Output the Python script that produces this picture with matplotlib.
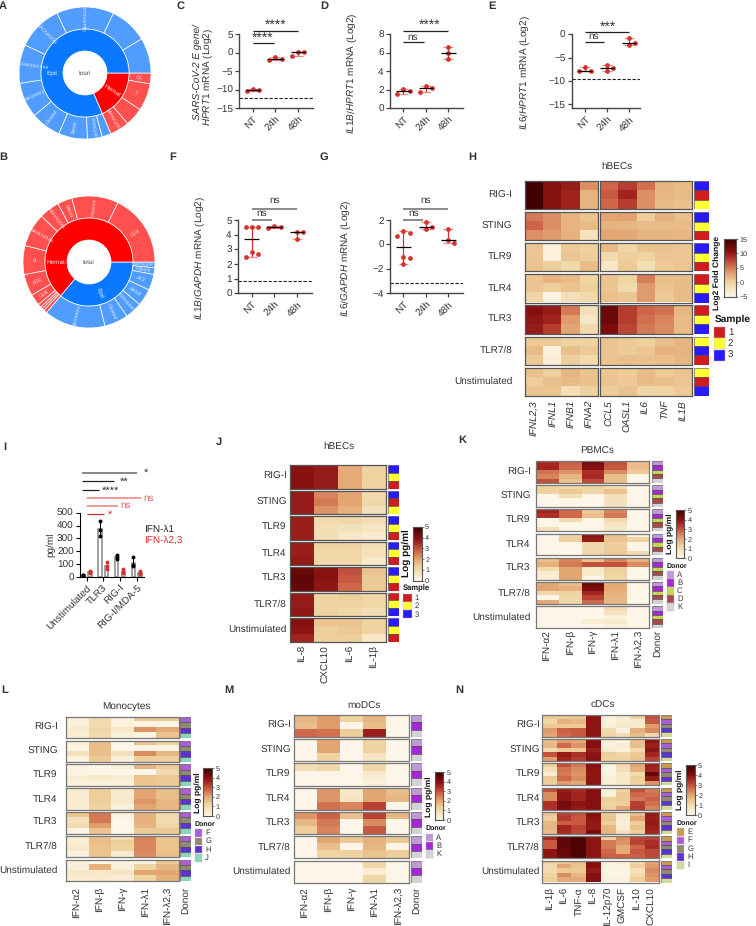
import numpy as np
import matplotlib
matplotlib.use("Agg")
import matplotlib.pyplot as plt
from matplotlib.colors import LinearSegmentedColormap

plt.rcParams['font.family'] = ['Liberation Sans', 'DejaVu Sans']
plt.rcParams['mathtext.fontset'] = 'custom'
plt.rcParams['mathtext.rm'] = 'Liberation Sans'
plt.rcParams['mathtext.it'] = 'Liberation Sans:italic'
plt.rcParams['mathtext.bf'] = 'Liberation Sans:bold'
plt.rcParams['text.hinting'] = 'no_hinting'

W, H = 756, 926
TXT = '#333333'
RED = '#d8302a'
FS = 7.2
fig = plt.figure(figsize=(W / 100, H / 100), dpi=100)

# sunburst values, degrees of the circle, clockwise from east
a_inner_labels = ['Hemat', 'Epit']
a_inner = [67, 293]
a_outer_labels = ['DC', 'T', '', 'Monocytes', '', 'Ionocyte', 'Basal', 'Ciliated', 'Secretory',
                  'Neuroendocrine', 'CACNA2D1', 'Squamous', '', '']
a_outer = [9.5, 24.2, 16.3, 17, 8, 13, 25.4, 26.6, 31, 34, 40, 50.5, 33.5, 31]
b_inner_labels = ['Epit', 'Hemat']
b_inner = [130, 230]
b_outer_labels = ['Ionocyte', 'Hillock', 'AT2', 'Basal', 'Fibroblast', 'Ciliated', 'Secretory',
                  '', '', '', '', 'CD8', 'pDC', 'B', 'Neutrophils', 'Monocytes', 'Macro', 'Plasma', 'CD4']
b_outer = [5, 6, 14, 15, 15, 21, 54, 3, 2, 2, 3, 10, 19, 25.5, 29.5, 18, 13, 41, 64]

# qPCR panels
time_labels = ['NT', '24h', '48h']
c_vals = [[-10.4, -9.8, -10.2], [-1.9, -1.2, -1.8], [0.2, -0.9, 0.1]]
d_vals = [[2.1, 1.5, 1.8], [2.35, 1.75, 2.2], [6.55, 5.9, 5.25]]
e_vals = [[-7.9, -7.0, -7.9], [-6.5, -7.9, -7.3], [-2.3, -0.8, -1.8]]
f_vals = [[4.5, 4.5, 4.5, 2.85, 2.65, 2.45], [4.45, 4.6, 4.5], [4.15, 4.15, 3.7]]
g_vals = [[0.95, 1.1, 0.65, -1.05, -1.1, -1.6], [1.3, 1.85, 1.45], [0.15, 1.25, 0.35]]

# panel I
i_labels = ['Unstimulated', 'TLR3', 'RIG-I', 'RIG-I/MDA-5']
i_l1 = [[15, 10, 18], [435, 365, 320], [170, 155, 140], [155, 90, 85]]
i_l23 = [[50, 30, 40], [115, 85, 65], [60, 35, 30], [45, 30, 25]]

# heatmaps: one matrix per stimulus, rows are samples or donors
stim = ['RIG-I', 'STING', 'TLR9', 'TLR4', 'TLR3', 'TLR7/8', 'Unstimulated']
h_genes = ['IFNL2,3', 'IFNL1', 'IFNB1', 'IFNA2', 'CCL5', 'OASL1', 'IL6', 'TNF', 'IL1B']
h_rig = [[15, 11, 10, 4, 6, 8, 5.5, 2, 1.5], [15, 11, 9.5, 2, 6.5, 9.5, 4, 1.8, 1.5], [15, 11, 9.5, 2, 5.8, 8, 4, 1.5, 1.2]]
h_sting = [[5, 4, 2, 1, 3, 3.2, 0.3, 2.2, 1.2], [6, 4, 2, 1.5, 2, 1.8, 1.5, 1.5, 1.5], [4, 3.5, 2.2, -2, 3, 2.8, 2, 2, 1.8]]
h_tlr9 = [[0.8, -4, 0.5, 0, 1.5, -0.5, 1, 1, 0.8], [0.8, -4, 0.8, 0.2, -1, 0.2, -0.2, 0.8, 0.8], [1, 0.3, -0.8, 1.5, -2.5, 0.5, -1.5, 0.6, 0.8]]
h_tlr4 = [[1, 2, 1.5, -0.5, 1, -0.3, 4.8, 1.3, 1.5], [0.8, 0.3, 1, 0, 0.8, -1, 3.5, 1, 1.5], [-0.5, -4.5, -1.5, -0.8, 1.2, 0.8, 3.5, 0.6, 1.5]]
h_tlr3 = [[11, 10, 5, -1.5, 12.5, 8, 6, 5.5, 1.8], [10.5, 9.5, 3.5, -2.5, 12.5, 8, 5.5, 4.5, 1.5], [10, 8, 3, -1, 11.5, 7.5, 5, 4.2, 1.5]]
h_tlr78 = [[0.5, 0.5, -0.3, -0.2, 1, 0.5, 0, 1.3, 2], [1.5, -4, 1.3, 0.6, 1, 0.4, 0.8, 2.2, 2], [0.6, -3.5, 0.2, -1, 1, 1.3, 1.2, 1.3, 1.8]]
h_un = [[1.2, 0, 2, 1, 0.8, 0.5, 1.5, 0.5, 1], [0.2, 1.3, 1.5, 1.2, 1, 0.5, 1.5, 1.2, 0.8], [1, 1, -1.5, 0, 0.3, 1, -0.5, -0.2, 0.5]]
h_order = ['312', '321', '321', '123', '123', '231', '213']

j_cyt = ['IL-8', 'CXCL10', 'IL-6', 'IL-1β']
j_rig = [[3.95, 3.8, 1.9, 1.2], [3.95, 3.75, 1.9, 1.25], [3.95, 3.75, 1.9, 1.2]]
j_sting = [[3.75, 2.4, 2, 1.0], [3.75, 2.5, 2, 1.1], [3.75, 2.2, 1.8, 0.8]]
j_tlr9 = [[3.7, 1, 1.1, 0.9], [3.7, 0.9, 0.8, 0.7], [3.7, 0.9, 0.6, 0.45]]
j_tlr4 = [[3.7, 1.2, 1.2, 0.9], [3.7, 1.1, 1.1, 0.8], [3.8, 1.1, 1.1, 0.55]]
j_tlr3 = [[4.4, 3.95, 3, 1.5], [4.5, 3.95, 2.9, 1.4], [4.4, 3.85, 2.7, 1.4]]
j_tlr78 = [[3.75, 1.2, 1.3, 1.1], [3.75, 1.2, 1.2, 1.1], [3.85, 1.2, 1.1, 0.9]]
j_un = [[4, 1.5, 1.5, 1.2], [3.9, 1.3, 1.4, 1.2], [3.6, 1.3, 1.3, 0.6]]
j_order = ['321', '312', '321', '321', '321', '123', '321']

ifn = ['IFN-α2', 'IFN-β', 'IFN-γ', 'IFN-λ1', 'IFN-λ2,3']
k_rig = [[3.5, 2.8, 4.2, 3, 1.6], [3.6, 2.7, 4, 2.9, 1.6], [2.6, 2.2, 3.4, 2.3, 1.4], [2.4, 1.7, 3.5, 1.6, 0], [3, 1.5, 3.1, 1.6, 0]]
k_sting = [[1.2, 1.1, 1.2, 0.9, 0], [1.2, 1.4, 1.1, 1.5, 0], [0, 0.9, 0, 0.8, 0], [0, 0, 0, 0.8, 0], [0, 0, 0, 0.8, 0]]
k_tlr9 = [[3.6, 2.7, 1.4, 2.4, 0], [3.4, 2.7, 1.6, 2.5, 0], [0, 1, 0, 1, 0], [0, 0, 0, 0.7, 0], [0.8, 0, 0, 0.6, 0]]
k_tlr4 = [[0, 1.1, 3.9, 1.6, 0], [0, 1.3, 3.8, 1.5, 1.2], [0, 0, 1.1, 1.3, 0], [0, 0, 1.0, 1.3, 0], [0, 0, 1.1, 1.4, 1.0]]
k_tlr3 = [[1.6, 2.4, 1.6, 2.4, 1.8], [1.8, 2.5, 3.0, 3.0, 2.3], [1, 2.0, 0.6, 1.3, 0], [0.4, 2, 0.5, 1.2, 0], [0.4, 2, 0, 1.1, 0]]
k_tlr78 = [[2, 1.6, 4.4, 1.9, 0], [2, 1.8, 4.1, 1.9, 0], [1.1, 1.2, 3.6, 1.8, 0], [0, 1.1, 3.2, 1.7, 0], [1.9, 1.1, 2.7, 1.7, 0]]
k_un = [[0, 0, 0, 1, 0], [0, 0, 0, 0.8, 0], [0, 0, 0, 0.2, 0], [0, 0, 0.4, 0.5, 0], [0, 0, 0, 0.2, 0]]

l_rig = [[0.3, 1, 0.2, 1.4, 1.4], [0.3, 1, 0.2, 0.1, 0.1], [0.5, 1.1, 0.6, 2.2, 1.9], [0.4, 1, 0.3, 0.1, 1.5]]
l_sting = [[0.3, 1.6, 0, 1.5, 1.2], [0.1, 1.6, 0, 0.1, 0.1], [0.8, 1.6, 0.8, 2.3, 1.7], [0.1, 1.4, 0.3, 1.3, 1.3]]
l_tlr9 = [[0.1, 0, 0.3, 1.7, 1.3], [0.1, 0, 0, 0, 1], [0.4, 0.6, 0.4, 1.5, 1.4], [0.3, 0.3, 0.3, 1.5, 1.4]]
l_tlr4 = [[0.4, 1.3, 0.5, 2, 1.6], [0.4, 1.3, 0.5, 2, 1.6], [0.4, 1.3, 0.6, 2.2, 1.7], [0.4, 1.2, 0.3, 2, 1.7]]
l_tlr3 = [[1.5, 2.5, 0.3, 1.8, 1], [0.8, 2.5, 0, 1.8, 1], [1, 2.1, 0, 1.7, 1.1], [0.1, 1.5, 0, 1.4, 1.4]]
l_tlr78 = [[0.4, 1.6, 0.9, 2.4, 1.5], [0.4, 1.6, 1.3, 2.4, 1.5], [0.6, 1.5, 1.2, 2.4, 1.5], [0.2, 1.5, 0.5, 2.3, 1.6]]
l_un = [[0.3, 0, 0.2, 0.1, 1.4], [0.3, 1.8, 0.3, 1.2, 1.7], [0.6, 0.6, 0.7, 2, 2], [0.4, 0.5, 0.4, 1.2, 1.8]]

m_rig = [[1.7, 2.1, 1.2, 1.7, 0], [1.6, 2.1, 0, 1.6, 0], [2.7, 2.6, 1.3, 3.7, 0]]
m_sting = [[0, 2, 0, 1.2, 0], [0, 2, 0, 1.2, 0], [0, 1.2, 0, 0.7, 0]]
m_tlr9 = [[0.9, 1.1, 0, 1.1, 0], [0, 0, 0, 0.5, 0], [0, 0, 0, 0.3, 0]]
m_tlr4 = [[0, 2.2, 0.6, 2, 1.6], [0, 2.2, 0.7, 2, 1.7], [0, 2.6, 2.4, 3.2, 0]]
m_tlr3 = [[2.2, 2.8, 1.6, 3.2, 1.7], [1.7, 2.5, 0, 2.3, 0], [1.3, 2.4, 0, 2.9, 0]]
m_tlr78 = [[0, 2, 1.4, 1.8, 1.4], [0, 1.6, 0, 1.7, 0], [0, 1.2, 1.2, 1.5, 1.3]]
m_un = [[0, 0, 0, 1.1, 0], [0, 0, 0, 0.4, 0], [0, 0, 0, 1.1, 0]]

n_cyt = ['IL-1β', 'IL-6', 'TNF-α', 'IL-8', 'IL-12p70', 'GMCSF', 'IL-10', 'CXCL10']
n_rig = [[1.4, 1.4, 1.5, 3.9, 0.3, 0.5, 1.2, 3], [1.1, 1.8, 1.7, 3.9, 0.2, 0.4, 0.5, 2.9], [1.4, 1.4, 1.4, 3.9, 0.3, 0.6, 0.5, 2.1],
         [2.1, 2.8, 2.9, 3.9, 1, 0.2, 1.8, 2.3], [2.0, 2.7, 2.9, 3.9, 1.1, 0.9, 1.6, 1]]
n_sting = [[1.6, 2.1, 2, 4, 0.4, 0.1, 1.5, 3.9], [1.7, 2.7, 2.2, 4, 0.2, 0.4, 1.6, 3.7], [1, 1.4, 1.4, 3.7, 0.4, 0.3, 1.0, 3.9],
           [3, 3.8, 3.4, 3.9, 1.3, 1.1, 1.4, 3.6], [2.1, 3.6, 3.3, 4, 1.2, 1.2, 1.5, 3.2]]
n_tlr9 = [[1.3, 3, 2.5, 4, 0.2, 1, 2, 3.7], [0.8, 2.6, 2.3, 3.9, 0.1, 0.9, 1.8, 3.6], [0.4, 2.5, 2.2, 3.9, 0.2, 0.6, 1, 4.4],
          [1.4, 2.7, 2.3, 3.9, 0.3, 0.6, 1.3, 3.8], [1.3, 2.1, 1.9, 3.9, 0.3, 0.6, 1.2, 2.2]]
n_tlr4 = [[3, 3.7, 3.5, 4, 0.3, 1.2, 3, 2.5], [2.3, 3.9, 3.6, 4, 0.2, 1.4, 2.7, 2.6], [2.3, 3.9, 3.6, 4, 1.3, 1.4, 2.5, 2.8],
          [3.4, 4.2, 3.9, 4, 1.2, 1.3, 3.2, 2.6], [3.4, 4.2, 3.8, 4, 1.3, 2, 3.3, 2.4]]
n_tlr3 = [[1.5, 3.2, 3, 4, 1.4, 0.6, 1.6, 3.8], [1.3, 3.3, 2.9, 3.9, 1.5, 0.4, 2, 3.7], [1.7, 2.8, 2.9, 3.8, 1.3, 0.3, 1.3, 3.8],
          [1.7, 3.6, 3.2, 3.8, 1.7, 0.4, 1.5, 3.7], [1.6, 3.5, 3.1, 4.2, 1.7, 0.8, 1.3, 3.6]]
n_tlr78 = [[3.5, 4.5, 4.8, 3.9, 1.2, 2.3, 3.1, 3.2], [2.9, 4.5, 4.8, 3.9, 2.5, 2.2, 3.2, 3.4], [2.9, 4.5, 4.8, 3.9, 2.5, 1.9, 2.7, 3.5],
           [3.9, 4.4, 4.8, 3.9, 2.7, 1.9, 2.9, 3.1], [3.9, 4.4, 4.8, 3.9, 2.8, 2.8, 2.8, 3.1]]
n_un = [[1.3, 1.4, 1.6, 4, 0.1, 0.2, 1, 2], [1, 2, 1.5, 4, 0.2, 0.2, 1.3, 2.1], [1, 1.4, 1.4, 3.8, 0.1, 0.1, 0.8, 2.3],
        [1.2, 2.3, 1.7, 4, 0.1, 0.1, 1, 2.2], [1.3, 1.9, 1.9, 4, 0.2, 0.2, 1.3, 2.1]]

sample_col = {'1': '#d01c1f', '2': '#ffff33', '3': '#2a1aff'}
donor_col = {'A': '#bd9ad6', 'B': '#a428d8', 'C': '#c5d650', 'D': '#a84a4a', 'E': '#c79a4e', 'F': '#ab5fd6',
             'G': '#918a73', 'H': '#5c32d8', 'I': '#d2dc9a', 'J': '#8bd4bf', 'K': '#d3d3d3'}

heat_cmap = LinearSegmentedColormap.from_list('heat', [
    (0, '#fdf6e8'), (0.12, '#f7e8c8'), (0.25, '#efd29e'), (0.4, '#e3a672'),
    (0.55, '#ce6548'), (0.7, '#a92a24'), (0.8, '#861010'), (1, '#3d0000')])


def px_axes(x0, y0, x1, y1, **kw):
    # axes from pixel box of the 756x926 picture, y going down
    return fig.add_axes([x0 / W, 1 - y1 / H, (x1 - x0) / W, (y1 - y0) / H], **kw)


def px_text(x, y, s, **kw):
    kw.setdefault('color', TXT)
    kw.setdefault('fontsize', FS)
    kw.setdefault('va', 'center')
    kw.setdefault('ha', 'center')
    return fig.text(x / W, 1 - y / H, s, **kw)


def sunburst(cx, cy, r, inner, inner_labels, inner_angles, outer, outer_labels, inner_cols, outer_cols):
    ax = px_axes(cx - r, cy - r, cx + r, cy + r)
    ax.set_aspect('equal')
    edge = dict(edgecolor='white', linewidth=0.5)
    ax.pie(outer, radius=1, startangle=0, counterclock=False, colors=outer_cols,
           wedgeprops=dict(width=1 / 3, **edge))
    ax.pie(inner, radius=2 / 3, startangle=0, counterclock=False, colors=inner_cols,
           wedgeprops=dict(width=1 / 3, **edge))
    ax.set_xlim(-1, 1)
    ax.set_ylim(-1, 1)
    ax.text(0, 0, 'total', color='#555555', fontsize=4.5, ha='center', va='center')
    for lab, mid in zip(inner_labels, inner_angles):
        rot = mid if -90 <= mid <= 90 else mid + 180
        ax.text(0.5 * np.cos(np.radians(mid)), 0.5 * np.sin(np.radians(mid)), lab, color='white', alpha=0.9,
                fontsize=4.6, ha='center', va='center', rotation=rot, rotation_mode='anchor')
    ang = 0
    for v, lab in zip(outer, outer_labels):
        mid = -(ang + v / 2)
        ang += v
        rot = mid if -90 <= mid <= 90 or mid < -270 else mid + 180
        ax.text(0.83 * np.cos(np.radians(mid)), 0.83 * np.sin(np.radians(mid)), lab, color='white', alpha=0.8,
                fontsize=3.8, ha='center', va='center', rotation=rot, rotation_mode='anchor')


def swarm(vals, pos, step, px_per_unit):
    # little beeswarm, points that touch are pushed sideways
    placed = []
    for v in sorted(vals, reverse=True):
        for off in (0, step, -step):
            if all(abs(v - pv) * px_per_unit > 6 or abs(off - po) > 0 for pv, po in placed):
                placed.append((v, off))
                break
        else:
            placed.append((v, 0))
    return [pos + p[1] for p in placed], [p[0] for p in placed]


def dot_panel(box, ylim, yticks, vals, cutoff=None, xlim=(-0.6, 2.65)):
    ax = px_axes(*box)
    ax.set_xlim(*xlim)
    ax.set_ylim(*ylim)
    ppu = (box[3] - box[1]) / (ylim[1] - ylim[0])
    for i, v in enumerate(vals):
        xs, ys = swarm(v, i, 0.27, ppu)
        ax.vlines(i, min(v), max(v), color=RED, lw=0.9, zorder=2)
        ax.hlines([min(v), max(v)], i - 0.22, i + 0.22, color='#e88a84', lw=0.9, zorder=2)
        ax.plot(xs, ys, 'o', color=RED, ms=3.4, mew=0, zorder=3)
        ax.hlines(np.median(v), i - 0.32, i + 0.32, color='black', lw=0.9, zorder=4)
    if cutoff is not None:
        ax.axhline(cutoff, color='#222222', lw=0.8, ls=(0, (3, 1.5)))
    for s in ('top', 'right'):
        ax.spines[s].set_visible(False)
    for s in ('left', 'bottom'):
        ax.spines[s].set_linewidth(1.0)
        ax.spines[s].set_color('#444444')
    ax.set_yticks(yticks)
    ax.set_xticks(range(3))
    ax.set_xticklabels(time_labels, rotation=45, ha='right', rotation_mode='anchor')
    ax.tick_params(labelsize=FS, length=3, width=0.9, color='#444444', labelcolor=TXT, pad=1.5)
    return ax


def bracket(ax, x0, x1, y, color='#222222', lw=0.9):
    ax.plot([x0, x1], [y, y], color=color, lw=lw, clip_on=False, solid_capstyle='butt')


def heat_panel(rows, orders, palette, x_spans, strip, y0, h, step, labels, label_x, tops_y, title=None,
               title_xy=None, vmin=0, vmax=5, italic=False, strip_label=None, edge='#555555'):
    for r, (mat, order) in enumerate(zip(rows, orders)):
        top = y0 + r * step
        mat = np.array(mat, dtype=float)
        for (xa, xb, c0, c1) in x_spans:
            ax = px_axes(xa, top, xb, top + h)
            ax.imshow(mat[:, c0:c1], aspect='auto', cmap=heat_cmap, vmin=vmin, vmax=vmax, interpolation='nearest')
            ax.set_xticks([])
            ax.set_yticks([])
            for s in ax.spines.values():
                s.set_linewidth(0.9)
                s.set_color(edge)
        ax = px_axes(strip[0], top, strip[1], top + h)
        ax.barh(range(len(order)), 1, height=1, left=0, color=[palette[o] for o in order],
                edgecolor='#444444', linewidth=0.4)
        ax.set_xlim(0, 1)
        ax.set_ylim(len(order) - 0.5, -0.5)
        ax.axis('off')
        px_text(label_x, top + h / 2, stim[r], ha='right')
    for (xa, xb, c0, c1) in x_spans:
        cw = (xb - xa) / (c1 - c0)
        for c in range(c0, c1):
            px_text(xa + (c - c0 + 0.5) * cw, tops_y, labels[c], rotation=90, va='top',
                    style='italic' if italic else 'normal')
    if strip_label:
        px_text((strip[0] + strip[1]) / 2, tops_y, strip_label, rotation=90, va='top')
    if title:
        px_text(title_xy[0], title_xy[1], title)


def color_key(box, vmin, vmax, ticks, label, label_x, label_y, head, head_xy, sq_box, sq_step, keys, palette,
              label_fs=6.1, key_fs=5.5):
    ax = px_axes(*box)
    ax.imshow(np.linspace(vmax, vmin, 200)[:, None], aspect='auto', cmap=heat_cmap, vmin=vmin, vmax=vmax,
              extent=[0, 1, vmin, vmax])
    ax.set_xticks([])
    ax.yaxis.tick_right()
    ax.set_yticks(ticks)
    ax.tick_params(labelsize=5.2, length=1.5, width=0.5, pad=1, labelcolor=TXT, color='#555555')
    for s in ax.spines.values():
        s.set_linewidth(0.8)
        s.set_color('#555555')
    px_text(label_x, label_y, label, rotation=90, fontweight='bold', color='#111111', fontsize=label_fs)
    px_text(head_xy[0], head_xy[1], head, ha='left', fontweight='bold', color='#111111', fontsize=head_xy[2])
    for i, k in enumerate(keys):
        y = sq_box[1] + i * sq_step
        a = px_axes(sq_box[0], y, sq_box[2], y + sq_box[3])
        a.set_facecolor(palette[k])
        a.set_xticks([])
        a.set_yticks([])
        for s in a.spines.values():
            s.set_linewidth(0.3)
            s.set_color('#bbbbbb')
        px_text(sq_box[2] + 3, y + sq_box[3] / 2, k, ha='left', fontsize=key_fs)


# --- A, B
BLUE_D, BLUE_L, RED_D, RED_L = '#0a78ff', '#519dff', '#ff0000', '#ff5050'
sunburst(85, 73, 66, a_inner, a_inner_labels, [-33, -180], a_outer, a_outer_labels, [RED_D, BLUE_D],
         [RED_L] * 4 + [BLUE_L] * 10)
sunburst(89, 262, 66, b_inner, b_inner_labels, [-70, -180], b_outer, b_outer_labels, [BLUE_D, RED_D],
         [BLUE_L] * 7 + [RED_L] * 12)

# --- C to G
ax = dot_panel((239.3, 34, 312.7, 108), (-15, 5), [5, 0, -5, -10, -15], c_vals, -12.2)
bracket(ax, 0, 2, 5.8)
bracket(ax, 0, 0.95, 2.65)
px_text(276, 25, '****', fontsize=10)
px_text(262.7, 38, '****', fontsize=10)
ax = dot_panel((390, 34, 463, 108), (0, 8), [8, 6, 4, 2, 0], d_vals)
bracket(ax, 0, 2, 8.32)
bracket(ax, 0, 0.9, 7.1)
px_text(429.5, 25, '****', fontsize=10)
px_text(412.7, 37, 'ns')
ax = dot_panel((571.7, 34.3, 640, 108.3), (-15.9, 0), [0, -5, -10, -15], e_vals, -9.5, xlim=(-0.62, 2.5))
bracket(ax, 0, 2, 0.55)
bracket(ax, 0, 0.85, -1.7)
px_text(608, 27, '***', fontsize=10)
px_text(594, 36.7, 'ns')
ax = dot_panel((238, 220, 312, 293.3), (0, 5), [5, 4, 3, 2, 1, 0], f_vals, 0.85)
bracket(ax, 0, 2, 5.75, color='#777777', lw=1.2)
bracket(ax, 0, 0.88, 5.0, color='#777777', lw=1.2)
px_text(275, 200.5, 'ns')
px_text(262, 213.5, 'ns')
ax = dot_panel((390, 220, 463, 293.3), (-4, 2), [2, 0, -2, -4], g_vals, -3.15)
bracket(ax, 0, 2, 2.9, color='#777777', lw=1.2)
bracket(ax, 0, 0.88, 2.0, color='#777777', lw=1.2)
px_text(426, 200.5, 'ns')
px_text(414, 213.5, 'ns')

px_text(197, 72, 'SARS-CoV-2 E gene/', rotation=90, style='italic')
px_text(208, 77, r'$\mathit{HPRT1}$ mRNA (Log2)', rotation=90)
px_text(352, 73, r'$\mathit{IL1B/HPRT1}$ mRNA (Log2)', rotation=90)
px_text(525, 72.5, r'$\mathit{IL6/HPRT1}$ mRNA (Log2)', rotation=90)
px_text(200.7, 258, r'$\mathit{IL1B/GAPDH}$ mRNA (Log2)', rotation=90)
px_text(346.7, 258, r'$\mathit{IL6/GAPDH}$ mRNA (Log2)', rotation=90)

# --- H
heat_panel([h_rig, h_sting, h_tlr9, h_tlr4, h_tlr3, h_tlr78, h_un], h_order, sample_col,
           [(525.3, 598, 0, 4), (600.3, 691.7, 4, 9)], (694, 708.7), 181, 28.2, 31.1,
           h_genes, 512.3, 400, 'hBECs', (617.3, 166.3), vmin=-5, vmax=15, italic=True)
color_key((724.3, 239, 736, 296.7), -5, 15, [15, 10, 5, 0, -5], 'Log2 Fold Change', 717.3, 273,
          'Sample', (714.3, 319, 7.3), (714.3, 327, 725, 10.8), 11.4, '123', sample_col, key_fs=7)

# --- I
ax = px_axes(80, 512.7, 144, 577)
ax.set_xlim(-0.4, 3.44)
ax.set_ylim(0, 500)
for i in range(4):
    for vals, off, col in ((i_l1[i], -0.2, 'black'), (i_l23[i], 0.2, RED)):
        ax.bar(i + off, np.mean(vals), width=0.2, facecolor='white', edgecolor='#888888', linewidth=1.1, zorder=2)
        ax.vlines(i + off, min(vals), max(vals), color=col, lw=0.7, zorder=3)
        ax.plot([i + off] * len(vals), vals, 'o', color=col, ms=2.8, mew=0, zorder=4)
for s in ('top', 'right'):
    ax.spines[s].set_visible(False)
ax.set_yticks([0, 100, 200, 300, 400, 500])
ax.set_xticks(range(4))
ax.set_xticklabels(i_labels, rotation=45, ha='right', rotation_mode='anchor')
ax.tick_params(labelsize=FS, length=3, width=0.8, pad=1.5, labelcolor=TXT)
ax.set_ylabel('pg/ml', fontsize=FS, color=TXT, labelpad=1)
bracket(ax, -0.26, 3.0, 811, color='#888888', lw=1.4)
bracket(ax, -0.26, 1.64, 746)
bracket(ax, -0.26, 0.76, 676)
bracket(ax, 0, 3.24, 613, color='#ee9a96', lw=1.4)
bracket(ax, 0, 1.88, 554, color='#ee9a96', lw=1.4)
bracket(ax, 0, 1.04, 487, color=RED, lw=0.9)
px_text(145.7, 473, '*', fontsize=8)
px_text(124, 482, '**', fontsize=8)
px_text(110.5, 491, '****', fontsize=8)
px_text(148.7, 498, 'ns', color='#e2665f')
px_text(125.7, 505.7, 'ns', color='#e2665f')
px_text(110, 515, '*', fontsize=8, color=RED)
px_text(144, 529, 'IFN-λ1', ha='left', color='#222222')
px_text(144, 540, 'IFN-λ2,3', ha='left', color=RED)

# --- J
heat_panel([j_rig, j_sting, j_tlr9, j_tlr4, j_tlr3, j_tlr78, j_un], j_order, sample_col,
           [(290.3, 385.7, 0, 4)], (387.7, 398.7), 465, 23.6, 25.5, j_cyt, 286.7, 645, 'hBECs', (339, 446))
color_key((413.3, 526.7, 421.7, 580.7), 0, 5, [5, 4, 3, 2, 1, 0], 'Log pg/ml', 406.7, 553,
          'Sample', (403, 588.2, 5.5), (403.3, 594, 411.7, 8), 8.2, '123', sample_col, label_fs=7.2)

# --- K
heat_panel([k_rig, k_sting, k_tlr9, k_tlr4, k_tlr3, k_tlr78, k_un], ['ABCDK'] * 7, donor_col,
           [(536, 649.3, 0, 5)], (652, 662.7), 461, 21.8, 24.2, ifn, 530.7, 630, 'PBMCs', (597.3, 451.7),
           strip_label='Donor', edge='#777777')
color_key((675.7, 510, 684, 558.3), 0, 5, [5, 4, 3, 2, 1, 0], 'Log pg/ml', 670, 534,
          'Donor', (666.7, 565.7, 5), (666.7, 571.3, 674, 7.6), 8, 'ABCDK', donor_col)

# --- L
heat_panel([l_rig, l_sting, l_tlr9, l_tlr4, l_tlr3, l_tlr78, l_un], ['FGHJ'] * 7, donor_col,
           [(66, 179, 0, 5)], (180.3, 190.7), 716.7, 21.7, 23.8, ifn, 57.7, 887, 'Monocytes', (126.7, 706.7),
           strip_label='Donor', edge='#777777')
color_key((203.3, 768.3, 212, 816), 0, 5, [5, 4, 3, 2, 1, 0], 'Log pg/ml', 198, 792.7,
          'Donor', (195, 824, 5), (195, 829.3, 202.3, 7.6), 8.2, 'FGHJ', donor_col)

# --- M
heat_panel([m_rig, m_sting, m_tlr9, m_tlr4, m_tlr3, m_tlr78, m_un], ['ABK'] * 7, donor_col,
           [(294.3, 409.3, 0, 5)], (411.3, 421.7), 714.7, 22.2, 24.3, ifn, 290.7, 887, 'moDCs', (363.7, 706.7),
           strip_label='Donor', edge='#777777')
color_key((435, 772.3, 443.3, 820), 0, 5, [5, 4, 3, 2, 1, 0], 'Log pg/ml', 429, 796.7,
          'Donor', (425.7, 828.3, 5), (425.7, 833.7, 433, 7.6), 8.2, 'ABK', donor_col)

# --- N
heat_panel([n_rig, n_sting, n_tlr9, n_tlr4, n_tlr3, n_tlr78, n_un], ['EFGHI'] * 7, donor_col,
           [(542, 659.3, 0, 8)], (661.3, 672.3), 714.7, 22, 24.3, n_cyt, 540, 887, 'cDCs', (602.7, 705.7),
           edge='#777777')
color_key((686, 765, 694.7, 815), 0, 5, [5, 4, 3, 2, 1, 0], 'Log pg/ml', 680.7, 789.3,
          'Donor', (676.7, 822.7, 5), (676.7, 828.3, 684.3, 7.6), 8.3, 'EFGHI', donor_col)

# panel letters
letters = ['A', 'B', 'C', 'D', 'E', 'F', 'G', 'H', 'I', 'J', 'K', 'L', 'M', 'N']
letter_x = [3, 3, 181, 324, 492, 173, 324, 472, 5, 219, 462, 5, 229, 459]
letter_y = [6, 157, 6, 6, 6, 157, 157, 157, 447, 442, 440, 690, 690, 690]
for s, lx, ly in zip(letters, letter_x, letter_y):
    px_text(lx, ly, s, fontweight='bold', fontsize=8)

fig.savefig('out.png', dpi=100, facecolor='white')
